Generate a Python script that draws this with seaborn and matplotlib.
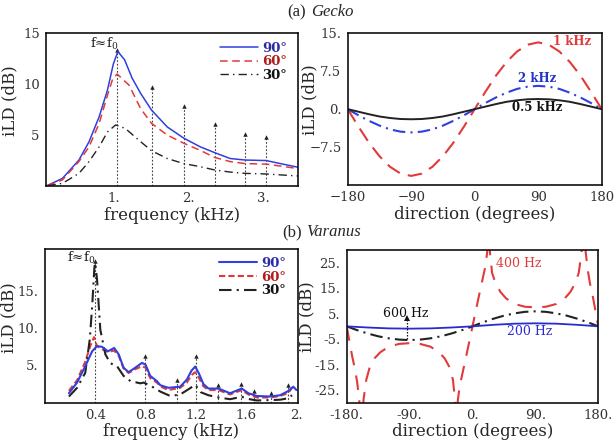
import matplotlib
matplotlib.use("Agg")
import matplotlib.pyplot as plt
import seaborn as sns
import pandas as pd

# ---------------- data ----------------
# (a) Gecko, iLD vs frequency
gk_f90 = [0.12, 0.32, 0.54, 0.675, 0.81, 0.92, 1.0, 1.06, 1.15, 1.25, 1.364, 1.51, 1.72, 1.94, 2.16, 2.355, 2.56, 2.76, 3.04, 3.23, 3.475]
gk_v90 = [0.05, 0.75, 2.55, 4.35, 6.8, 9.4, 12.0, 13.2, 12.4, 10.6, 9.1, 7.45, 5.8, 4.7, 3.85, 3.27, 2.7, 2.55, 2.5, 2.2, 1.83]
gk_f60 = [0.12, 0.32, 0.54, 0.675, 0.81, 0.92, 0.99, 1.05, 1.21, 1.364, 1.51, 1.72, 1.94, 2.16, 2.355, 2.56, 2.76, 3.04, 3.23, 3.475]
gk_v60 = [0.05, 0.6, 2.4, 3.85, 6.15, 8.9, 10.5, 11.0, 9.9, 7.6, 6.15, 5.0, 4.2, 3.5, 2.8, 2.4, 2.2, 2.15, 1.96, 1.7]
gk_f30 = [0.12, 0.32, 0.54, 0.675, 0.81, 0.92, 1.03, 1.16, 1.34, 1.51, 1.72, 1.94, 2.16, 2.355, 2.56, 2.76, 3.04, 3.475]
gk_v30 = [0.03, 0.26, 1.24, 2.4, 3.85, 5.3, 6.0, 5.65, 4.5, 3.46, 2.7, 2.2, 1.9, 1.57, 1.37, 1.24, 1.18, 0.98]
gk_arrow_f = [1.05, 1.51, 1.94, 2.355, 2.764, 3.044]
gk_arrow_top = [13.4, 9.7, 7.85, 6.1, 5.1, 4.8]

# (a) Gecko, iLD vs direction
gk_dir = [-180, -165, -150, -135, -120, -105, -90, -75, -60, -45, -30, -15, 0,
          15, 30, 45, 60, 75, 90, 105, 120, 135, 150, 165, 180]
gk_1k = [0, -3.4, -6.6, -9.3, -11.4, -12.75, -13.2, -12.75, -11.4, -9.3, -6.6, -3.4, 0,
         3.4, 6.6, 9.3, 11.4, 12.75, 13.2, 12.75, 11.4, 9.3, 6.6, 3.4, 0]
gk_2k = [0, -1.2, -2.3, -3.25, -4.0, -4.45, -4.6, -4.45, -4.0, -3.25, -2.3, -1.2, 0,
         1.2, 2.3, 3.25, 4.0, 4.45, 4.6, 4.45, 4.0, 3.25, 2.3, 1.2, 0]
gk_05k = [0, -0.5, -1.0, -1.45, -1.75, -1.95, -2.0, -1.95, -1.75, -1.45, -1.0, -0.5, 0,
          0.5, 1.0, 1.45, 1.75, 1.95, 2.0, 1.95, 1.75, 1.45, 1.0, 0.5, 0]

# (b) Varanus, iLD vs frequency
vr_f90 = [0.19, 0.255, 0.32, 0.375, 0.414, 0.454, 0.50, 0.55, 0.586, 0.625, 0.665, 0.718, 0.771, 0.80, 0.837,
          0.89, 0.917, 0.98, 1.075, 1.128, 1.165, 1.195, 1.225, 1.26, 1.30, 1.38, 1.472, 1.565, 1.618, 1.684,
          1.79, 1.87, 1.935, 1.975, 2.0]
vr_v90 = [1.27, 2.7, 4.9, 6.9, 7.6, 7.5, 6.9, 7.35, 6.5, 4.7, 4.1, 4.7, 5.35, 5.1, 3.6,
          2.9, 2.35, 2.0, 2.15, 3.1, 4.3, 4.85, 3.9, 2.5, 1.9, 1.9, 1.27, 1.9, 1.27, 0.9,
          0.83, 1.0, 1.57, 2.15, 1.7]
vr_f60 = [0.19, 0.255, 0.32, 0.36, 0.39, 0.414, 0.454, 0.50, 0.55, 0.586, 0.625, 0.665, 0.718, 0.771, 0.80,
          0.837, 0.89, 0.917, 0.98, 1.075, 1.128, 1.165, 1.195, 1.225, 1.26, 1.30, 1.38, 1.472, 1.565, 1.618,
          1.684, 1.79, 1.87, 1.935, 1.965]
vr_v60 = [1.6, 3.0, 5.5, 7.6, 8.8, 7.6, 7.2, 6.8, 7.0, 6.3, 4.6, 4.0, 4.5, 4.9, 4.7,
          3.3, 2.7, 2.2, 1.7, 2.0, 2.7, 3.7, 4.1, 3.3, 2.2, 1.7, 1.7, 1.1, 1.7, 1.1,
          0.7, 0.7, 0.9, 1.3, 2.0]
vr_f30 = [0.19, 0.255, 0.32, 0.356, 0.375, 0.393, 0.40, 0.414, 0.44, 0.48, 0.52, 0.573, 0.625, 0.68, 0.758,
          0.785, 0.837, 0.917, 0.996, 1.075, 1.15, 1.195, 1.24, 1.30, 1.38, 1.472, 1.565, 1.618, 1.684, 1.79,
          1.87, 1.935, 1.965]
vr_v30 = [0.83, 2.0, 4.0, 8.5, 12.9, 18.2, 18.8, 16.5, 9.8, 6.5, 5.3, 4.9, 3.6, 2.9, 2.6,
          2.7, 2.3, 1.5, 0.9, 1.1, 1.9, 2.4, 1.4, 1.0, 0.7, 0.47, 0.8, 0.5, 0.3, 0.35,
          0.4, 0.6, 1.0]
vr_arrow_f = [0.40, 0.792, 1.05, 1.2, 1.38, 1.557, 1.663, 1.795, 1.935]
vr_arrow_top = [19.0, 6.25, 3.05, 6.3, 2.4, 2.5, 1.6, 1.35, 2.4]

# (b) Varanus, iLD vs direction
vr_dir_200 = [-180, -150, -120, -90, -60, -30, 0, 30, 60, 90, 120, 150, 180]
vr_200 = [0, -0.45, -0.8, -0.9, -0.8, -0.45, 0, 0.6, 1.05, 1.2, 1.05, 0.6, 0]
vr_dir_600 = gk_dir
vr_600 = [0, -1.5, -2.8, -3.9, -4.7, -5.2, -5.4, -5.2, -4.7, -3.9, -2.8, -1.5, 0,
          1.6, 3.0, 4.2, 5.1, 5.7, 5.9, 5.7, 5.1, 4.2, 3.0, 1.6, 0]
vr_dir_400 = [-180, -176, -172, -168, -165, -162, -159, -156, -152, -147, -140, -132, -120, -105, -90,
              -75, -60, -48, -40, -33, -28, -25, -23, -21, -18, -14, -10, -5, 0,
              5, 10, 14, 18, 21, 23, 25, 28, 33, 40, 48, 60, 75, 90,
              105, 120, 132, 140, 147, 152, 156, 159, 162, 165, 168, 172, 176, 180]
vr_400 = [0, -6, -12, -17, -22, -29, -45, -29, -21, -16, -12.5, -10.2, -8, -6.9, -6.6,
          -6.9, -8, -10.2, -12.5, -16, -21, -29, -45, -29, -23, -18, -13, -6.5, 0,
          6.5, 13, 18, 23, 29, 45, 29, 21, 17, 13.5, 11, 8.8, 7.7, 7.5,
          7.7, 8.8, 11, 13.5, 17, 21, 29, 45, 29, 22, 17, 12, 6, 0]

# ---------------- style ----------------
sns.set_style("white")
plt.rcParams["font.family"] = ["DejaVu Serif"]
plt.rcParams["mathtext.fontset"] = "dejavuserif"

BLUE = "#2f3fe0"
RED = "#e23a3a"
BLACK = "#222222"
TXT_BLUE = "#2a2aa5"
TXT_RED = "#b01c1c"

W, H = 614, 445
fig = plt.figure(figsize=(W / 100, H / 100), dpi=100)


def add_axes(x0, y0, x1, y1):
    return fig.add_axes([x0 / W, 1 - y1 / H, (x1 - x0) / W, (y1 - y0) / H])


ax1 = add_axes(46, 33.3, 298.3, 186)
ax2 = add_axes(347.7, 33.3, 601.7, 185)
ax3 = add_axes(45, 249.3, 297.7, 402.7)
ax4 = add_axes(346.7, 250, 598.3, 402.7)

for ax in (ax1, ax2, ax3, ax4):
    for s in ax.spines.values():
        s.set_color("#111111")
        s.set_linewidth(1.2)
    ax.tick_params(direction="out", length=2.5, width=0.8, labelsize=9.5,
                   labelcolor="#333333", color="#555555", pad=2)
    ax.grid(False)


def line(ax, x, y, **kw):
    df = pd.DataFrame({"x": x, "y": y})
    sns.lineplot(data=df, x="x", y="y", ax=ax, sort=False, estimator=None, **kw)


def arrows(ax, xs, tops, bottom=0.0, color="#444444"):
    for x, t in zip(xs, tops):
        ax.plot([x, x], [bottom, t], ls=(0, (1.6, 1.6)), color=color, lw=0.8, zorder=1)
        ax.plot([x], [t], marker="^", ms=3.2, color="#222222", mew=0, zorder=1)


# ---- panel (a) left ----
arrows(ax1, gk_arrow_f, gk_arrow_top)
line(ax1, gk_f90, gk_v90, color=BLUE, lw=1.1, label="90°")
line(ax1, gk_f60, gk_v60, color=RED, lw=1.1, linestyle=(0, (5, 3)), label="60°")
line(ax1, gk_f30, gk_v30, color=BLACK, lw=1.0, linestyle=(0, (6, 3, 1, 3)), label="30°")
ax1.set_xlim(0.1, 3.47)
ax1.set_ylim(0, 15)
ax1.set_xticks([1, 2, 3], ["1.", "2.", "3."])
ax1.set_yticks([5, 10, 15], ["5", "10", "15"])
ax1.set_xlabel("frequency (kHz)", fontsize=12, labelpad=1)
ax1.set_ylabel("iLD (dB)", fontsize=12)
ax1.yaxis.set_label_coords(-0.111, 0.557)
ax1.text(0.87, 14.0, "f≈f$_0$", fontsize=9.5, ha="center", va="center", color="#222222")
leg = ax1.legend(loc="upper right", bbox_to_anchor=(0.955, 0.945), frameon=False,
                 handlelength=2.9, handletextpad=0.3, labelspacing=0.05, borderpad=0,
                 borderaxespad=0, prop={"weight": "bold", "size": 9.5})
for t, c in zip(leg.get_texts(), [TXT_BLUE, TXT_RED, "#111111"]):
    t.set_color(c)

# ---- panel (a) right ----
line(ax2, gk_dir, gk_1k, color=RED, lw=1.5, linestyle=(0, (7, 4)))
line(ax2, gk_dir, gk_2k, color=BLUE, lw=1.5, linestyle=(0, (6, 2.5, 1, 2.5)))
line(ax2, gk_dir, gk_05k, color=BLACK, lw=1.4)
ax2.set_xlim(-180, 180)
ax2.set_ylim(-15, 15)
ax2.set_xticks([-180, -90, 0, 90, 180], ["\u2212180", "\u221290", "0", "90", "180"])
ax2.set_yticks([15, 7.5, 0, -7.5], ["15.", "7.5", "0.", "\u22127.5"])
ax2.set_xlabel("direction (degrees)", fontsize=12, labelpad=1)
ax2.set_ylabel("iLD (dB)", fontsize=12)
ax2.yaxis.set_label_coords(-0.117, 0.566)
ax2.text(138, 13.3, "1 kHz", color=RED, fontsize=8.5, fontweight="bold", ha="center", va="center")
ax2.text(89, 6.0, "2 kHz", color="#2233cc", fontsize=8.5, fontweight="bold", ha="center", va="center")
ax2.text(89, 0.4, "0.5 kHz", color="#111111", fontsize=8.5, fontweight="bold", ha="center", va="center")

# ---- panel (b) left ----
arrows(ax3, vr_arrow_f, vr_arrow_top)
line(ax3, vr_f60, vr_v60, color=RED, lw=1.5, linestyle=(0, (3, 1.5)), label="60°")
line(ax3, vr_f30, vr_v30, color=BLACK, lw=1.5, linestyle=(0, (6, 2.5, 1, 2.5)), label="30°")
line(ax3, vr_f90, vr_v90, color=BLUE, lw=1.5, label="90°")
ax3.set_xlim(0, 2.01)
ax3.set_ylim(0, 20.6)
ax3.set_xticks([0.4, 0.8, 1.2, 1.6, 2.0], ["0.4", "0.8", "1.2", "1.6", "2."])
ax3.set_yticks([5, 10, 15], ["5.", "10.", "15."])
ax3.set_xlabel("frequency (kHz)", fontsize=12, labelpad=1)
ax3.set_ylabel("iLD (dB)", fontsize=12)
ax3.yaxis.set_label_coords(-0.111, 0.555)
ax3.text(0.29, 19.4, "f≈f$_0$", fontsize=9.5, ha="center", va="center", color="#222222")
h, l = ax3.get_legend_handles_labels()
order = [l.index("90°"), l.index("60°"), l.index("30°")]
leg = ax3.legend([h[i] for i in order], [l[i] for i in order], loc="upper right",
                 bbox_to_anchor=(0.955, 0.95), frameon=False,
                 handlelength=2.9, handletextpad=0.3, labelspacing=0.05, borderpad=0,
                 borderaxespad=0, prop={"weight": "bold", "size": 9.5})
for t, c in zip(leg.get_texts(), [TXT_BLUE, TXT_RED, "#111111"]):
    t.set_color(c)

# ---- panel (b) right ----
line(ax4, vr_dir_400, vr_400, color=RED, lw=1.5, linestyle=(0, (7, 5)))
line(ax4, vr_dir_600, vr_600, color=BLACK, lw=1.5, linestyle=(0, (6, 2.5, 1, 2.5)))
line(ax4, vr_dir_200, vr_200, color="#2a2ad0", lw=1.3)
ax4.plot([-94, -94], [-5.1, 3.2], ls=(0, (1.2, 1.2)), color="#111111", lw=0.9)
ax4.plot([-94], [3.2], marker="^", ms=4, color="#111111", mew=0)
ax4.set_xlim(-180, 180)
ax4.set_ylim(-30, 30)
ax4.set_xticks([-180, -90, 0, 90, 180], ["-180.", "-90.", "0.", "90.", "180."])
ax4.set_yticks([25, 15, 5, -5, -15, -25], ["25.", "15.", "5.", "-5.", "-15.", "-25."])
ax4.set_xlabel("direction (degrees)", fontsize=12, labelpad=1)
ax4.set_ylabel("iLD (dB)", fontsize=12)
ax4.yaxis.set_label_coords(-0.126, 0.563)
ax4.text(66, 24.8, "400 Hz", color=RED, fontsize=9, ha="center", va="center")
ax4.text(-95, 4.9, "600 Hz", color="#111111", fontsize=9, ha="center", va="center")
ax4.text(82, -2.0, "200 Hz", color="#2a2ad0", fontsize=9, ha="center", va="center")

for ax in (ax1, ax2, ax3, ax4):
    ax.set_facecolor("white")

# ---- panel titles ----
fig.text(306 / W, 1 - 12.5 / H, "(a)", fontsize=12, family="Liberation Serif", ha="right", va="center")
fig.text(311 / W, 1 - 12.5 / H, "Gecko", fontsize=12, family="Liberation Serif", style="italic",
         ha="left", va="center")
fig.text(302 / W, 1 - 232 / H, "(b)", fontsize=12, family="Liberation Serif", ha="right", va="center")
fig.text(306 / W, 1 - 232 / H, "Varanus", fontsize=12, family="Liberation Serif", style="italic",
         ha="left", va="center")

fig.savefig("out.png", dpi=100, facecolor="white")
